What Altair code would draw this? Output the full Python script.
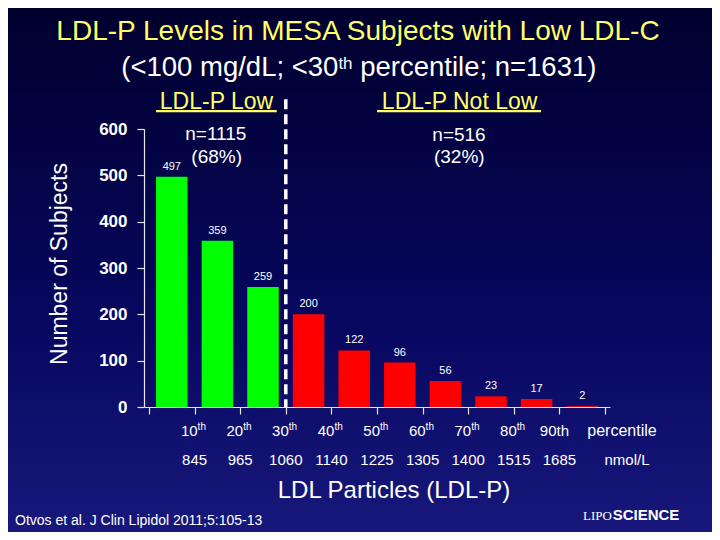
import altair as alt
import pandas as pd

FONT = "Liberation Sans"
YELLOW = "#ffff66"
WHITE = "#ffffff"
AXIS = "#e6e6e6"
OX, OY = 144, 129  # page position of the plot-area origin

# ---- data ----
counts = [497, 359, 259, 200, 122, 96, 56, 23, 17, 2]
groups = ["LDL-P Low"] * 3 + ["LDL-P Not Low"] * 7
percentile_labels = ["10th", "20th", "30th", "40th", "50th", "60th", "70th", "80th", "90th"]
superscript_th = [True, True, True, True, True, True, True, True, False]
nmol_labels = ["845", "965", "1060", "1140", "1225", "1305", "1400", "1515", "1685"]
y_ticks = [0, 100, 200, 300, 400, 500, 600]
group_n = ["n=1115", "n=516"]
group_pct = ["(68%)", "(32%)"]

bars_df = pd.DataFrame({
    "pos": [i + 0.5 for i in range(len(counts))],
    "count": counts,
    "group": groups,
})
ticks_df = pd.DataFrame({
    "tick": list(range(1, len(percentile_labels) + 1)),
    "num": [p[:-2] if s else p for p, s in zip(percentile_labels, superscript_th)],
    "sup": ["th" if s else "" for s in superscript_th],
    "plain": ["" if s else p for p, s in zip(percentile_labels, superscript_th)],
    "nmol": nmol_labels,
})
sup_df = ticks_df[[s for s in superscript_th]]
plain_df = ticks_df[[not s for s in superscript_th]]

x_scale = alt.Scale(domain=[0, 10], nice=False, zero=False)
y_scale = alt.Scale(domain=[0, 600], nice=False)


def txt(text, x, y, size, color=WHITE, align="center", baseline="alphabetic",
        weight="normal", angle=0, font=FONT):
    return alt.Chart(pd.DataFrame({"t": [text]})).mark_text(
        align=align, baseline=baseline, fontSize=size, fontWeight=weight,
        color=color, font=font, angle=angle
    ).encode(x=alt.value(x - OX), y=alt.value(y - OY), text="t:N")


def underline(x1, x2, y):
    return alt.Chart(pd.DataFrame({"k": [0]})).mark_rule(
        color=YELLOW, strokeWidth=2.3
    ).encode(x=alt.value(x1 - OX), x2=alt.value(x2 - OX), y=alt.value(y - OY))


bg = alt.Chart(pd.DataFrame({"k": [0]})).mark_rect(
    fill=alt.LinearGradient(
        gradient="linear",
        stops=[alt.GradientStop(color="#00002e", offset=0),
               alt.GradientStop(color="#070760", offset=0.6),
               alt.GradientStop(color="#18187c", offset=1)],
        x1=0, x2=0, y1=0, y2=1,
    )
).encode(x=alt.value(-136), x2=alt.value(568), y=alt.value(-121), y2=alt.value(403))

bars = alt.Chart(bars_df).mark_bar(size=31.5).encode(
    x=alt.X("pos:Q", scale=x_scale,
            axis=alt.Axis(values=list(range(11)), tickSize=7, labels=False, title=None,
                          grid=False, domainColor=AXIS, tickColor=AXIS, domainWidth=1.2,
                          tickWidth=1.2, zindex=2)),
    y=alt.Y("count:Q", scale=y_scale,
            axis=alt.Axis(values=y_ticks, tickSize=7, labelPadding=10, labelFont=FONT,
                          labelFontSize=17, labelFontWeight="bold", labelColor=WHITE,
                          title=None, grid=False, domainColor=AXIS, tickColor=AXIS,
                          domainWidth=1.2, tickWidth=1.2, zindex=2)),
    color=alt.Color("group:N",
                    scale=alt.Scale(domain=["LDL-P Low", "LDL-P Not Low"],
                                    range=["#00ff00", "#ff0000"]),
                    legend=None),
)

values = alt.Chart(bars_df).mark_text(
    dy=-7, baseline="alphabetic", font=FONT, fontSize=11, color=WHITE
).encode(x="pos:Q", y="count:Q", text="count:Q")

divider = alt.Chart(pd.DataFrame({"k": [0]})).mark_rule(
    color=WHITE, strokeWidth=3.5, strokeDash=[10, 5]
).encode(x=alt.datum(3), y=alt.value(99.3 - OY), y2=alt.value(407 - OY))

pct_num = alt.Chart(sup_df).mark_text(
    align="right", dx=3, font=FONT, fontSize=15, color=WHITE, baseline="alphabetic"
).encode(x="tick:Q", y=alt.value(436 - OY), text="num:N")
pct_sup = alt.Chart(sup_df).mark_text(
    align="left", dx=3, font=FONT, fontSize=10, color=WHITE, baseline="alphabetic"
).encode(x="tick:Q", y=alt.value(430 - OY), text="sup:N")
pct_plain = alt.Chart(plain_df).mark_text(
    align="center", dx=-5, font=FONT, fontSize=15, color=WHITE, baseline="alphabetic"
).encode(x="tick:Q", y=alt.value(436 - OY), text="plain:N")
nmol_row = alt.Chart(ticks_df).mark_text(
    align="center", font=FONT, fontSize=15, color=WHITE, baseline="alphabetic"
).encode(x="tick:Q", y=alt.value(465 - OY), text="nmol:N")
pct_unit = alt.Chart(pd.DataFrame({"t": ["percentile"]})).mark_text(
    align="center", dx=17, font=FONT, fontSize=16, color=WHITE, baseline="alphabetic"
).encode(x=alt.datum(10), y=alt.value(436 - OY), text="t:N")
nmol_unit = alt.Chart(pd.DataFrame({"t": ["nmol/L"]})).mark_text(
    align="center", dx=22, font=FONT, fontSize=15, color=WHITE, baseline="alphabetic"
).encode(x=alt.datum(10), y=alt.value(465 - OY), text="t:N")

annotations = [
    txt("LDL-P Levels in MESA Subjects with Low LDL-C", 358, 40.4, 28, color=YELLOW),
    txt("(<100 mg/dL; <30", 338.4, 75.8, 27.5, align="right"),
    txt("th", 338.4, 68.9, 17, align="left"),
    txt("percentile; n=1631)", 360.2, 75.8, 27.5, align="left"),
    txt("LDL-P Low", 216.5, 108.6, 23, color=YELLOW),
    underline(156, 276.7, 111.2),
    txt("LDL-P Not Low", 459.6, 108.6, 23, color=YELLOW),
    underline(377, 541, 111.2),
    txt(group_n[0], 215.8, 140, 19),
    txt(group_pct[0], 216.7, 162.5, 19),
    txt(group_n[1], 459, 140.5, 19),
    txt(group_pct[1], 459.3, 162.8, 19),
    txt("Number of Subjects", 60.3, 264, 23, angle=270, baseline="middle"),
    txt("LDL Particles (LDL-P)", 394, 498, 24),
    txt("Otvos et al. J Clin Lipidol 2011;5:105-13", 15, 525, 14, align="left"),
    txt("LIPO", 583, 519.5, 13, align="left", font="Liberation Serif"),
    txt("SCIENCE", 612.7, 519.5, 15, align="left", weight="bold"),
]

chart = alt.layer(
    bg, bars, values, divider, pct_num, pct_sup, pct_plain, nmol_row, pct_unit, nmol_unit,
    *annotations
).properties(
    width=466, height=278,
    autosize=alt.AutoSizeParams(type="none"),
    padding={"left": 136, "top": 121, "right": 102, "bottom": 125},
).configure_view(strokeWidth=0).configure(background="#05054a")

chart.save("out.html", embed_options={"renderer": "svg", "actions": False})
